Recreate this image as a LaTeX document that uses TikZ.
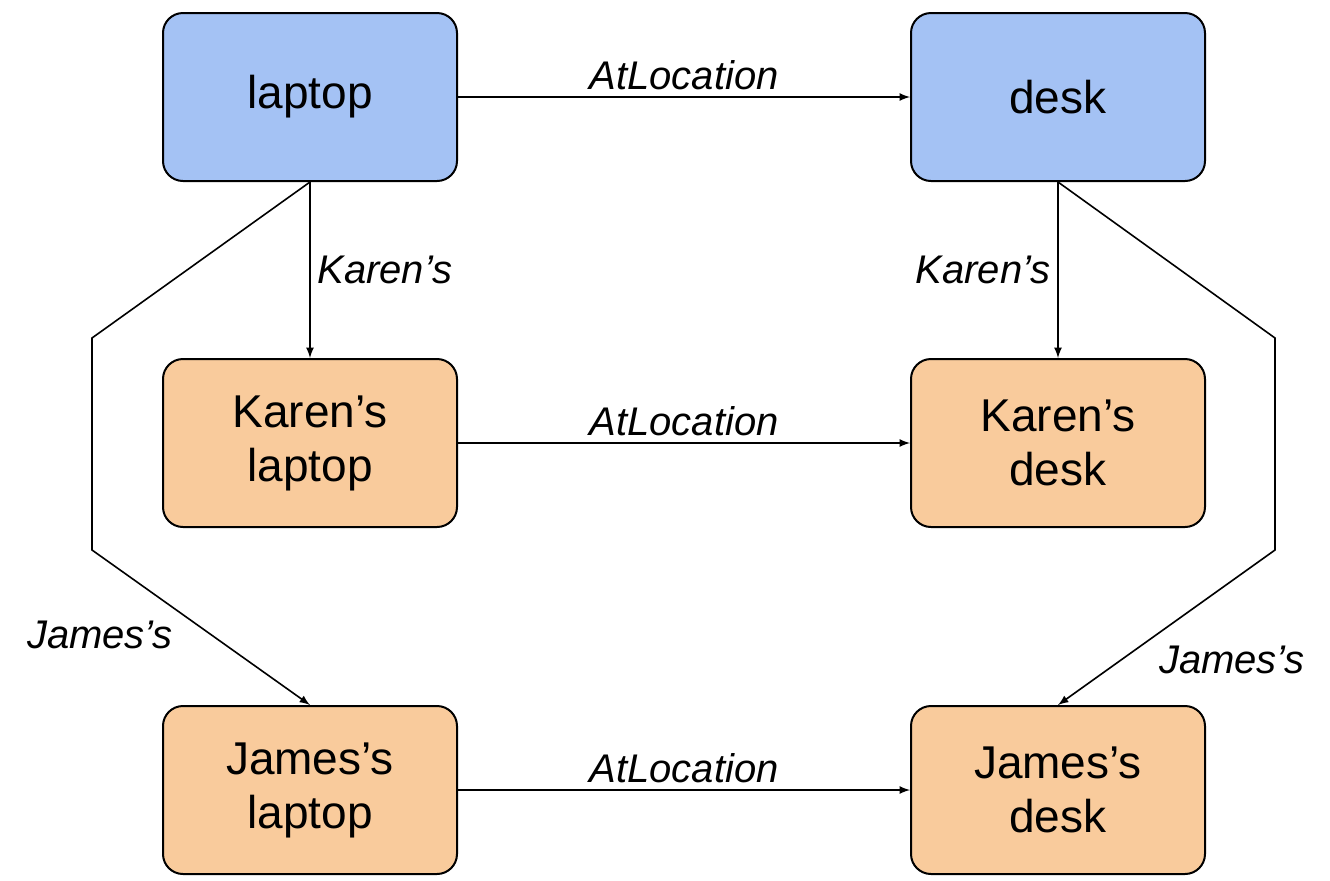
\documentclass[tikz,border=0pt]{standalone}
\usepackage{fontspec}
\setmainfont{Liberation Sans}
\usetikzlibrary{positioning}
\definecolor{conceptblue}{HTML}{A4C2F4}
\definecolor{ownedorange}{HTML}{F9CB9C}
\tikzstyle{box}=[draw,line width=1pt,rounded corners=10pt,minimum width=147pt,minimum height=84pt,align=center,font=\fontsize{23}{27}\selectfont]
\tikzstyle{rel}=[font=\fontsize{20}{24}\selectfont\itshape]
\tikzstyle{edge}=[-latex,line width=0.8pt]

\begin{document}
\begin{tikzpicture}[x=0.5pt,y=-0.5pt]
    \useasboundingbox (0,0) rectangle (1330,880);
    \node[box,fill=conceptblue] (laptop) at (310,97) {laptop};
    \node[box,fill=conceptblue] (desk) at (1058,97) {desk};
    \node[box,fill=ownedorange] (klaptop) at (310,443) {Karen’s\\laptop};
    \node[box,fill=ownedorange] (kdesk) at (1058,443) {Karen’s\\desk};
    \node[box,fill=ownedorange] (jlaptop) at (310,790) {James’s\\laptop};
    \node[box,fill=ownedorange] (jdesk) at (1058,790) {James’s\\desk};
    % bends of the long connectors
    \coordinate (lt) at (92,338);
    \coordinate (lb) at (92,550);
    \coordinate (rt) at (1275,338);
    \coordinate (rb) at (1275,550);
    % relations
    \draw[edge] (laptop) -- node[rel,above] {AtLocation} (desk);
    \draw[edge] (klaptop) -- node[rel,above] {AtLocation} (kdesk);
    \draw[edge] (jlaptop) -- node[rel,above] {AtLocation} (jdesk);
    \draw[edge] (laptop) -- node[rel,right] {Karen’s} (klaptop);
    \draw[edge] (desk) -- node[rel,left] {Karen’s} (kdesk);
    \draw[edge] (laptop.south) -- (lt) -- (lb) -- (jlaptop.north);
    \draw[edge] (desk.south) -- (rt) -- (rb) -- (jdesk.north);
    \node[rel] (jlabl) at (100,635) {James’s};
    \node[rel] (jlabr) at (1232,660) {James’s};
\end{tikzpicture}
\end{document}
